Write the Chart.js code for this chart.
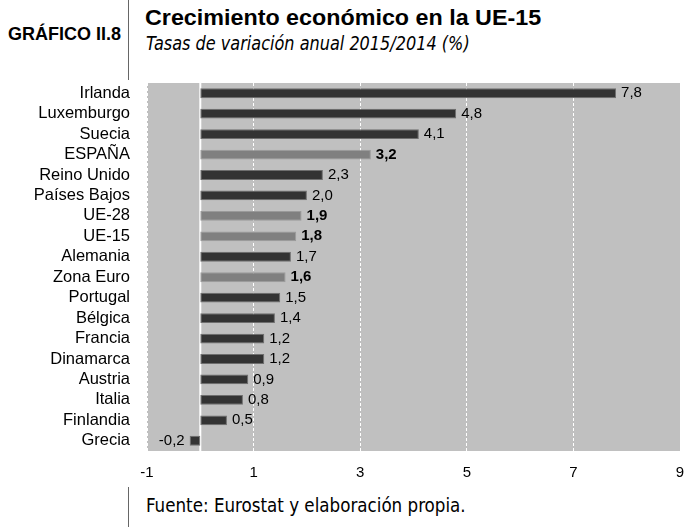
<!DOCTYPE html>
<html lang="es">
<head>
<meta charset="UTF-8" />
<title>Crecimiento económico en la UE-15</title>
<script src="https://cdn.jsdelivr.net/npm/chart.js@4.4.1/dist/chart.umd.min.js"></script>
<style>
  html, body { margin: 0; padding: 0; background: #fff; }
  body { width: 687px; height: 527px; position: relative; overflow: hidden; font-family: "Liberation Sans", Arial, sans-serif; color: #000; }
  .abs { position: absolute; white-space: nowrap; transform-origin: 0 0; }
  #tag { left: 8px; top: 24px; font-size: 18px; font-weight: bold; }
  #title { left: 145px; top: 5px; font-size: 22px; font-weight: bold; }
  #subtitle { left: 146px; top: 32px; font-size: 19px; font-style: italic; font-family: "DejaVu Sans Condensed", "DejaVu Sans", sans-serif; }
  #footer { left: 146px; top: 494px; font-size: 19px; font-family: "DejaVu Sans Condensed", "DejaVu Sans", sans-serif; }
  .vline { position: absolute; left: 128px; width: 1px; background: #666; }
  #chartBox { position: absolute; left: 0; top: 75px; width: 687px; height: 412px; }
</style>
</head>
<body>
<div id="tag" class="abs">GRÁFICO II.8</div>
<div class="vline" style="top:0;height:80px"></div>
<div id="title" class="abs" data-w="396">Crecimiento económico en la UE-15</div>
<div id="subtitle" class="abs" data-w="324">Tasas de variación anual 2015/2014 (%)</div>
<div id="chartBox"><canvas id="chart"></canvas></div>
<div class="vline" style="top:487px;height:40px"></div>
<div id="footer" class="abs" data-w="320">Fuente: Eurostat y elaboración propia.</div>

<script>
  // Data
  const countries = ["Irlanda", "Luxemburgo", "Suecia", "ESPAÑA", "Reino Unido", "Países Bajos", "UE-28", "UE-15", "Alemania", "Zona Euro", "Portugal", "Bélgica", "Francia", "Dinamarca", "Austria", "Italia", "Finlandia", "Grecia"];
  const growth = [7.8, 4.8, 4.1, 3.2, 2.3, 2.0, 1.9, 1.8, 1.7, 1.6, 1.5, 1.4, 1.2, 1.2, 0.9, 0.8, 0.5, -0.2];
  const highlighted = ["ESPAÑA", "UE-28", "UE-15", "Zona Euro"];
  const xTicks = [-1, 1, 3, 5, 7, 9];

  // squeeze/stretch header texts to the reference widths
  document.querySelectorAll("[data-w]").forEach(function (el) {
    const k = Number(el.dataset.w) / el.offsetWidth;
    el.style.transform = "scaleX(" + k + ")";
  });

  const isHi = (i) => highlighted.includes(countries[i]);
  const fmt = (v) => v.toFixed(1).replace(".", ",");

  // grey plot background + white zero line
  const plotBack = {
    id: "plotBack",
    beforeDraw(chart) {
      const { ctx, chartArea: a } = chart;
      ctx.save();
      ctx.fillStyle = "#c0c0c0";
      ctx.fillRect(a.left, a.top, a.right - a.left, a.bottom - a.top);
      ctx.restore();
    },
    beforeDatasetsDraw(chart) {
      const { ctx, chartArea: a } = chart;
      const x0 = chart.scales.x.getPixelForValue(0);
      ctx.save();
      ctx.strokeStyle = "#ffffff";
      ctx.lineWidth = 2;
      ctx.beginPath();
      ctx.moveTo(x0, a.top);
      ctx.lineTo(x0, a.bottom);
      ctx.stroke();
      ctx.restore();
    },
  };

  // value labels next to the bars
  const valueLabels = {
    id: "valueLabels",
    afterDatasetsDraw(chart) {
      const { ctx } = chart;
      const meta = chart.getDatasetMeta(0);
      ctx.save();
      ctx.fillStyle = "#000";
      ctx.textBaseline = "middle";
      meta.data.forEach(function (bar, i) {
        const v = growth[i];
        ctx.font = (isHi(i) ? "bold " : "") + "15px 'Liberation Sans', Arial, sans-serif";
        if (v < 0) {
          ctx.textAlign = "right";
          ctx.fillText(fmt(v), bar.x - 5, bar.y);
        } else {
          ctx.textAlign = "left";
          ctx.fillText(fmt(v), bar.x + 5, bar.y);
        }
      });
      ctx.restore();
    },
  };

  new Chart(document.getElementById("chart"), {
    type: "bar",
    data: {
      labels: countries,
      datasets: [
        {
          data: growth,
          backgroundColor: growth.map((_, i) => (isHi(i) ? "#808080" : "#333333")),
          borderColor: growth.map((_, i) => (isHi(i) ? "#9a9a9a" : "#6e6e6e")),
          borderWidth: 1,
          borderSkipped: false,
          barPercentage: 0.48,
          categoryPercentage: 1,
        },
      ],
    },
    options: {
      indexAxis: "y",
      responsive: true,
      maintainAspectRatio: false,
      animation: false,
      layout: { padding: { top: 8, right: 7, bottom: 0, left: 0 } },
      plugins: { legend: { display: false }, tooltip: { enabled: false } },
      scales: {
        x: {
          min: -1,
          max: 9,
          afterBuildTicks(scale) {
            scale.ticks = xTicks.map((v) => ({ value: v }));
          },
          afterFit(scale) {
            scale.height = 36;
            scale.paddingLeft = 0;
            scale.paddingRight = 0;
          },
          grid: { color: "#ffffff", lineWidth: 1, drawTicks: false },
          border: { display: false, dash: [3, 2] },
          ticks: {
            padding: 13,
            color: "#000",
            font: { family: "'Liberation Sans', Arial, sans-serif", size: 15 },
            callback: (v) => String(v),
          },
        },
        y: {
          afterFit(scale) {
            scale.width = 147;
            scale.paddingTop = 0;
            scale.paddingBottom = 0;
          },
          grid: { display: false, drawTicks: false },
          border: { display: false },
          ticks: {
            autoSkip: false,
            padding: 17,
            color: "#000",
            font: { family: "'Liberation Sans', Arial, sans-serif", size: 16.5 },
          },
        },
      },
    },
    plugins: [plotBack, valueLabels],
  });
</script>
</body>
</html>
